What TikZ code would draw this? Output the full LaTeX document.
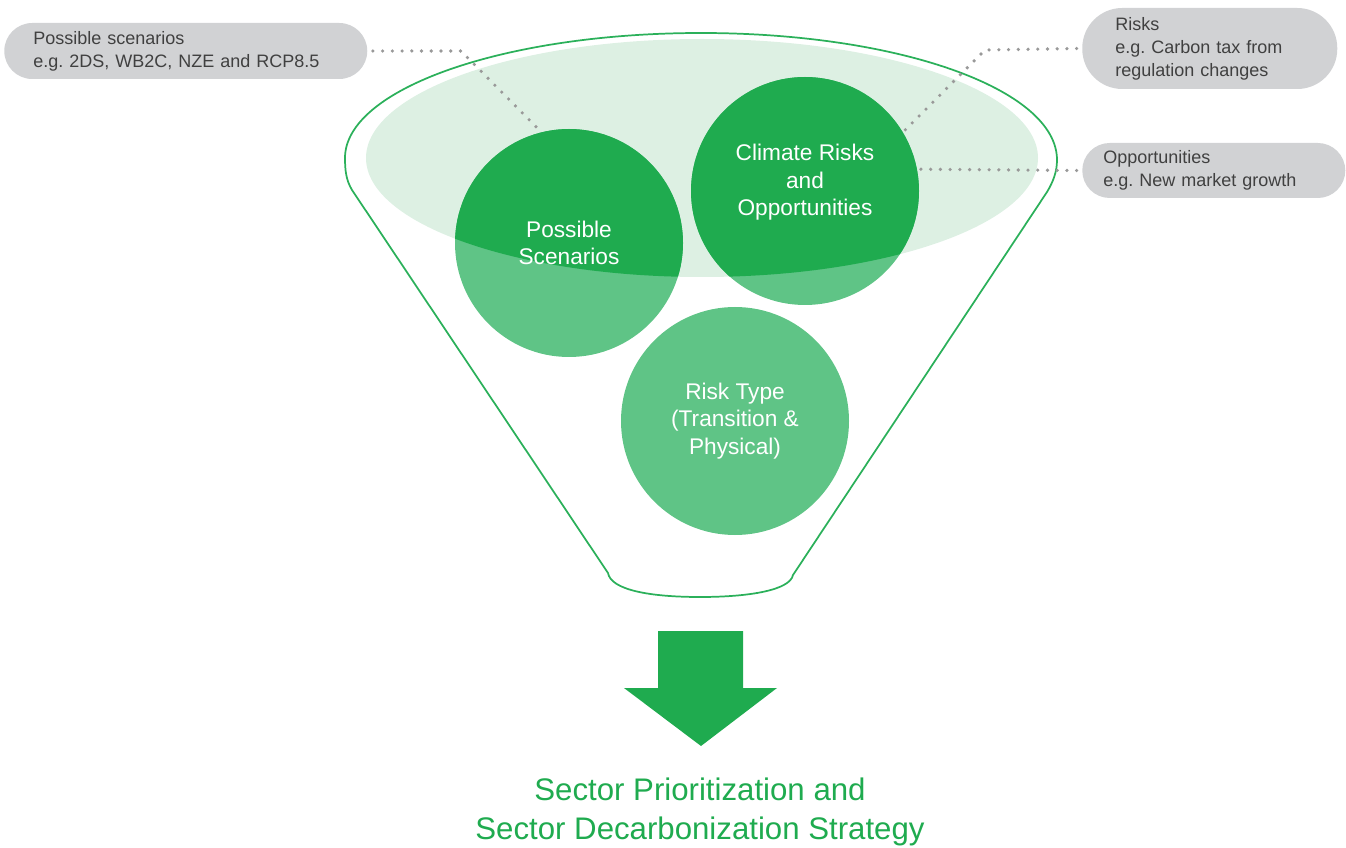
\documentclass[tikz,border=0pt]{standalone}
\usepackage{fontspec}
\setmainfont{Liberation Sans}
\usetikzlibrary{calc}
\frenchspacing

\definecolor{leafgreen}{HTML}{1FAB4F}
\definecolor{softgreen}{HTML}{5FC486}
\definecolor{palegreen}{HTML}{DDF0E3}
\definecolor{rimgreen}{HTML}{2BB05A}
\definecolor{boxgray}{HTML}{D1D2D4}
\definecolor{notegray}{HTML}{404040}
\definecolor{dotgray}{HTML}{999999}

\tikzset{
  funnel/.style={draw=rimgreen, line width=1.3pt, line join=round},
  bubble/.style={circle, minimum size=171pt, inner sep=0pt, fill=softgreen,
    text=white, align=center, font=\fontsize{17}{20.8}\selectfont},
  notebox/.style={fill=boxgray, anchor=west, align=left, text=notegray,
    inner ysep=0pt, font=\fontsize{13.5}{17.3}\selectfont},
  dotline/.style={draw=dotgray, line width=2.7pt, line cap=round,
    dash pattern=on 0pt off 7.3pt},
}

\begin{document}
\begin{tikzpicture}[x=0.75pt, y=-0.75pt]
    \useasboundingbox (0,0) rectangle (1346,848);

    % --- 1. funnel outline ---
    \draw[funnel] (608,573) -- (352,190) .. controls (346,180) and (345,170) .. (345,158)
        .. controls (345,89) and (504,33) .. (701,33)
        .. controls (898,33) and (1057,89) .. (1057,160)
        .. controls (1057,172) and (1053,182) .. (1047,192)
        -- (793,575) .. controls (790,590) and (750,597) .. (700,597)
        .. controls (650,597) and (611,590) .. (608,573) -- cycle;

    % --- 2. pale lens inside the rim ---
    \coordinate (lens) at (702,158);
    \def\lensrx{252pt}
    \def\lensry{89.25pt}
    \fill[palegreen] (lens) ellipse [x radius=\lensrx, y radius=\lensry];

    % --- 3. the three circles (darker where they sit in the lens) ---
    \tikzset{lensfill/.style={path picture={
        \fill[leafgreen] (lens) ellipse [x radius=\lensrx, y radius=\lensry];}}}
    \node[bubble, lensfill] (scen) at (569,243) {Possible\\Scenarios};
    \node[bubble, lensfill] (clim) at (805,191) {Climate Risks\\and\\Opportunities\\[-4pt]\mbox{}};
    \node[bubble] (rtype) at (735,421) {Risk Type\\(Transition \&\\Physical)};

    % --- 4. grey notes ---
    \node[notebox, minimum width=272.25pt, minimum height=42pt, rounded corners=21pt,
        inner xsep=21.75pt, text width=228.75pt] (sbox) at (4,51)
        {Possible scenarios\\e.g. 2DS, WB2C, NZE and RCP8.5};
    \node[notebox, minimum width=191.25pt, minimum height=60.75pt, rounded corners=30pt,
        inner xsep=24.75pt, text width=141.75pt] (rbox) at (1082,48.5)
        {Risks\\e.g. Carbon tax from\\regulation changes};
    \node[notebox, minimum width=197.25pt, minimum height=41.25pt, rounded corners=20.6pt,
        inner xsep=15.75pt, text width=165.75pt] (obox) at (1082,170.5)
        {Opportunities\\e.g. New market growth};

    % --- 5. dotted leaders ---
    \coordinate (sbend) at (461,51);
    \coordinate (rbend) at (985,50);
    \draw[dotline] ([xshift=4pt]sbox.east) -- (sbend) -- (scen.104);
    \draw[dotline] ([xshift=-4pt]rbox.west) -- (rbend) -- (clim.31);
    \draw[dotline] ([xshift=-4pt]obox.west) -- (clim.11 -| clim.east);

    % --- 6. arrow and result ---
    \fill[leafgreen] (658,631) -- (743,631) -- (743,688) -- (777,688) -- (701,746)
        -- (624,688) -- (658,688) -- cycle;
    \node[text=leafgreen, align=center, font=\fontsize{23.4}{29.3}\selectfont] (goal)
        at (700,812) {Sector Prioritization and\\Sector Decarbonization Strategy};
\end{tikzpicture}
\end{document}
